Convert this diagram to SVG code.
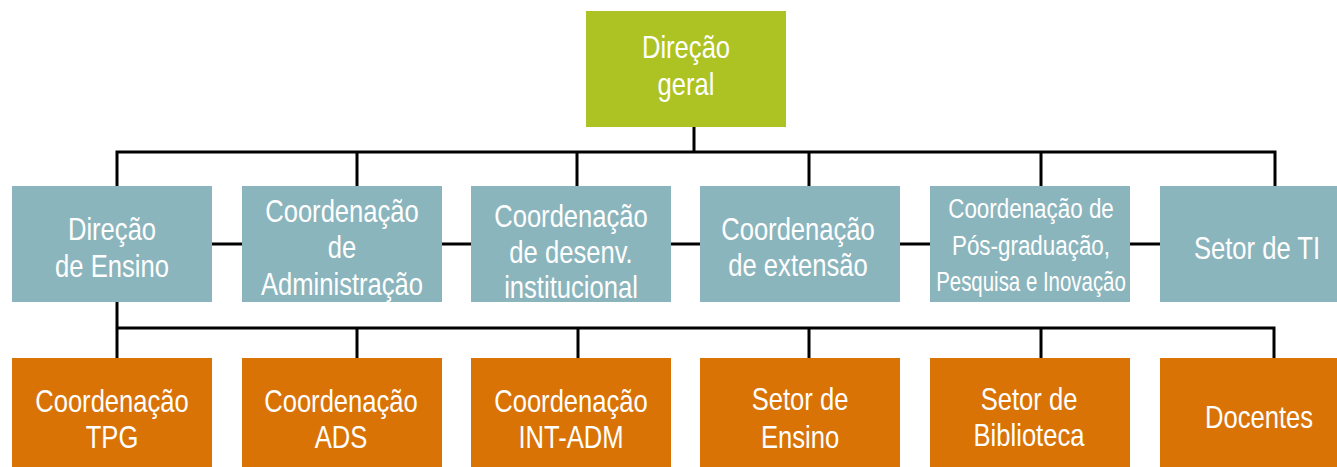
<svg xmlns="http://www.w3.org/2000/svg" width="1337" height="467" viewBox="0 0 1337 467">
<style>
.t{font-family:"Liberation Sans",Arial,sans-serif;font-size:32px;fill:#fff;text-anchor:middle}
.s{font-size:28px}
.top{fill:#adc324}
.mid{fill:#8bb5bd}
.bot{fill:#d97306}
.c{fill:none;stroke:#000;stroke-width:3;stroke-linejoin:miter;stroke-linecap:butt}
</style>
<rect width="1337" height="467" fill="#fff"/>
<g id="connectors">
<path class="c" d="M694 127V152M117 186V152H1275V186M357 152V186M577 152V186M809 152V186M1041 152V186"/>
<path class="c" d="M212 244H1160"/>
<path class="c" d="M117 302V358M117 328H1274V358M357 328V358M578 328V358M809 328V358M1041 328V358"/>
</g>
<g id="n-direcao-geral"><rect class="top" x="586" y="11" width="200" height="116"/><text class="t" transform="translate(686 58) scale(0.8 1)">Direção</text><text class="t" transform="translate(686 95) scale(0.8 1)">geral</text></g>
<g id="n-direcao-ensino"><rect class="mid" x="12" y="186" width="200" height="116"/><text class="t" transform="translate(112 240) scale(0.8 1)">Direção</text><text class="t" transform="translate(112 277) scale(0.8 1)">de Ensino</text></g>
<g id="n-coord-adm"><rect class="mid" x="242" y="186" width="200" height="116"/><text class="t" transform="translate(342 222) scale(0.8 1)">Coordenação</text><text class="t" transform="translate(342 258) scale(0.8 1)">de</text><text class="t" transform="translate(342 295) scale(0.8 1)">Administração</text></g>
<g id="n-coord-desenv"><rect class="mid" x="471" y="186" width="200" height="116"/><text class="t" transform="translate(571 227) scale(0.8 1)">Coordenação</text><text class="t" transform="translate(571 263) scale(0.8 1)">de desenv.</text><text class="t" transform="translate(571 298) scale(0.8 1)">institucional</text></g>
<g id="n-coord-ext"><rect class="mid" x="700" y="186" width="200" height="116"/><text class="t" transform="translate(798 240) scale(0.8 1)">Coordenação</text><text class="t" transform="translate(798 276) scale(0.8 1)">de extensão</text></g>
<g id="n-coord-pos"><rect class="mid" x="930" y="186" width="200" height="116"/><text class="t s" transform="translate(1031 218) scale(0.8 1)">Coordenação de</text><text class="t s" transform="translate(1031 255) scale(0.8 1)">Pós-graduação,</text><text class="t s" transform="translate(1031 291) scale(0.73 1)">Pesquisa e Inovação</text></g>
<g id="n-setor-ti"><rect class="mid" x="1160" y="186" width="200" height="116"/><text class="t" transform="translate(1257 259) scale(0.8 1)">Setor de TI</text></g>
<g id="n-coord-tpg"><rect class="bot" x="12" y="358" width="200" height="116"/><text class="t" transform="translate(112 412) scale(0.8 1)">Coordenação</text><text class="t" transform="translate(112 448) scale(0.8 1)">TPG</text></g>
<g id="n-coord-ads"><rect class="bot" x="242" y="358" width="200" height="116"/><text class="t" transform="translate(341 412) scale(0.8 1)">Coordenação</text><text class="t" transform="translate(341 448) scale(0.8 1)">ADS</text></g>
<g id="n-coord-int"><rect class="bot" x="471" y="358" width="200" height="116"/><text class="t" transform="translate(571 412) scale(0.8 1)">Coordenação</text><text class="t" transform="translate(571 448) scale(0.8 1)">INT-ADM</text></g>
<g id="n-setor-ensino"><rect class="bot" x="700" y="358" width="200" height="116"/><text class="t" transform="translate(800 410) scale(0.8 1)">Setor de</text><text class="t" transform="translate(800 448) scale(0.8 1)">Ensino</text></g>
<g id="n-setor-biblio"><rect class="bot" x="930" y="358" width="200" height="116"/><text class="t" transform="translate(1029 410) scale(0.8 1)">Setor de</text><text class="t" transform="translate(1029 446) scale(0.8 1)">Biblioteca</text></g>
<g id="n-docentes"><rect class="bot" x="1160" y="358" width="200" height="116"/><text class="t" transform="translate(1259 428) scale(0.8 1)">Docentes</text></g>
</svg>
